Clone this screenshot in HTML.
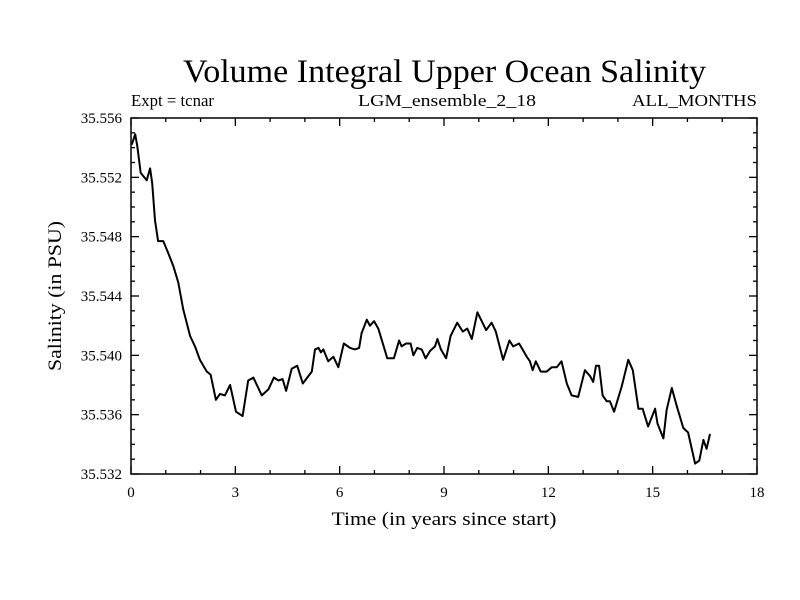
<!DOCTYPE html>
<html><head><meta charset="utf-8"><style>
html,body{margin:0;padding:0;background:#fff}
svg{display:block;font-family:"Liberation Serif",serif}
</style></head><body>
<svg id="chart" width="800" height="600">
<text x="444.5" y="82" font-size="33" text-anchor="middle" textLength="523" lengthAdjust="spacingAndGlyphs">Volume Integral Upper Ocean Salinity</text>
<text x="131" y="106" font-size="17" textLength="83" lengthAdjust="spacingAndGlyphs">Expt = tcnar</text>
<text x="447" y="106" font-size="17" text-anchor="middle" textLength="178" lengthAdjust="spacingAndGlyphs">LGM_ensemble_2_18</text>
<text x="757" y="106" font-size="17" text-anchor="end" textLength="125" lengthAdjust="spacingAndGlyphs">ALL_MONTHS</text>
<text x="444" y="525" font-size="19" text-anchor="middle" textLength="225" lengthAdjust="spacingAndGlyphs">Time (in years since start)</text>
<text transform="translate(61,296) rotate(-90)" font-size="19" text-anchor="middle" textLength="150" lengthAdjust="spacingAndGlyphs">Salinity (in PSU)</text>
<g id="axes"></g>
<path id="line" fill="none" stroke="#000" stroke-width="2" stroke-linejoin="round"></path>
<rect x="131" y="118" width="626" height="356" fill="none" stroke="#000" stroke-width="1.5"></rect>
</svg>
<script>
const years=[0.02,0.12,0.18,0.28,0.45,0.55,0.61,0.69,0.78,0.93,1.07,1.22,1.36,1.50,1.70,1.84,1.98,2.18,2.29,2.44,2.56,2.70,2.85,3.02,3.21,3.37,3.52,3.76,3.95,4.11,4.24,4.36,4.46,4.62,4.78,4.94,5.20,5.29,5.39,5.46,5.53,5.67,5.82,5.96,6.12,6.30,6.44,6.56,6.63,6.78,6.87,6.99,7.11,7.37,7.56,7.71,7.78,7.91,8.04,8.12,8.23,8.36,8.47,8.60,8.74,8.81,8.91,9.06,9.19,9.38,9.54,9.67,9.80,9.96,10.21,10.37,10.49,10.70,10.88,10.99,11.16,11.38,11.47,11.55,11.64,11.78,11.95,12.10,12.24,12.38,12.53,12.67,12.86,13.05,13.20,13.29,13.37,13.46,13.56,13.68,13.77,13.89,14.11,14.30,14.43,14.59,14.71,14.87,15.07,15.14,15.31,15.40,15.55,15.69,15.88,16.02,16.22,16.34,16.46,16.55,16.65];
const salinity=[35.5542,35.5549,35.5541,35.5523,35.5518,35.5526,35.5516,35.5491,35.5477,35.5477,35.5469,35.5460,35.5449,35.5431,35.5413,35.5406,35.5397,35.5389,35.5387,35.5370,35.5374,35.5373,35.5380,35.5362,35.5359,35.5383,35.5385,35.5373,35.5377,35.5385,35.5383,35.5384,35.5376,35.5391,35.5393,35.5381,35.5389,35.5404,35.5405,35.5402,35.5404,35.5396,35.5399,35.5392,35.5408,35.5405,35.5404,35.5405,35.5415,35.5424,35.5420,35.5423,35.5418,35.5398,35.5398,35.5410,35.5406,35.5408,35.5408,35.5400,35.5405,35.5404,35.5398,35.5403,35.5406,35.5411,35.5404,35.5398,35.5413,35.5422,35.5416,35.5418,35.5411,35.5429,35.5417,35.5422,35.5416,35.5397,35.5410,35.5406,35.5408,35.5399,35.5396,35.5390,35.5396,35.5389,35.5389,35.5392,35.5392,35.5396,35.5381,35.5373,35.5372,35.5390,35.5386,35.5382,35.5393,35.5393,35.5373,35.5369,35.5369,35.5362,35.5379,35.5397,35.5390,35.5364,35.5364,35.5352,35.5364,35.5354,35.5344,35.5363,35.5378,35.5366,35.5351,35.5348,35.5327,35.5329,35.5343,35.5337,35.5347];
const xTickLabels=["0","3","6","9","12","15","18"];
const yTickLabels=["35.532","35.536","35.540","35.544","35.548","35.552","35.556"];
const X0=131,X1=757,Y0=474,Y1=118,xMin=0,xMax=18,yMin=35.532,yMax=35.556;
const sx=v=>X0+(v-xMin)/(xMax-xMin)*(X1-X0);
const sy=v=>Y0-(v-yMin)/(yMax-yMin)*(Y0-Y1);
const NS="http://www.w3.org/2000/svg";
const axes=document.getElementById('axes');
function ln(x1,y1,x2,y2,name){const l=document.createElementNS(NS,'line');l.setAttribute('x1',x1);l.setAttribute('y1',y1);l.setAttribute('x2',x2);l.setAttribute('y2',y2);l.setAttribute('stroke','#000');l.setAttribute('stroke-width','1.3');


axes.appendChild(l);}
function tx(x,y,s,anchor,name){const t=document.createElementNS(NS,'text');t.setAttribute('x',x);t.setAttribute('y',y);t.setAttribute('font-size','15');t.setAttribute('text-anchor',anchor);t.textContent=s;


axes.appendChild(t);}
for(let i=0;i<=18;i++){const x=sx(i),L=(i%3===0)?8:4;ln(x,Y0,x,Y0-L,'x-tick');ln(x,Y1,x,Y1+L,'x-tick-top');}
for(let i=0;i<=24;i++){const v=yMin+i*0.001,y=sy(v),L=(i%4===0)?8:4;ln(X0,y,X0+L,y,'y-tick');ln(X1,y,X1-L,y,'y-tick-right');}
xTickLabels.forEach(s=>tx(sx(+s),497,s,'middle','x-tick-label'));
yTickLabels.forEach(s=>tx(122,sy(+s)+5,s,'end','y-tick-label'));
let d='';years.forEach((t,i)=>{d+=(i?'L':'M')+sx(t).toFixed(1)+','+sy(salinity[i]).toFixed(1);});
document.getElementById('line').setAttribute('d',d);
</script>
</body></html>
